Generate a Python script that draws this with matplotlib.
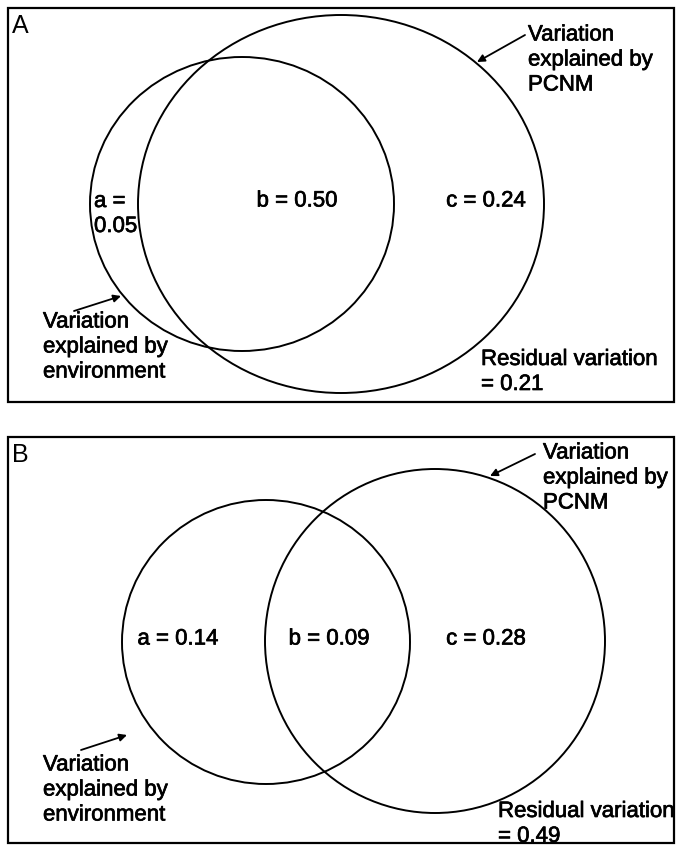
import numpy as np
import matplotlib.pyplot as plt
import matplotlib.patheffects as pe
from matplotlib.patches import Ellipse, Rectangle

plt.rcParams['font.family'] = ['Liberation Sans', 'DejaVu Sans']

# variation partitioning fractions (panel A, panel B)
panels = ['A', 'B']
frac_a = [0.05, 0.14]
frac_b = [0.50, 0.09]
frac_c = [0.24, 0.28]
residual = [0.21, 0.49]

# layout in pixel coordinates (origin top-left)
boxes = [(8, 8, 674, 402), (8, 437, 674, 843)]
env_ell = [(242, 204, 152, 147), (266, 642, 144, 142)]
pcnm_ell = [(341, 204, 203, 189), (435, 641, 170, 172)]

fig = plt.figure(figsize=(6.82, 8.51), dpi=100)
ax = fig.add_axes([0, 0, 1, 1])
ax.set_xlim(0, 682)
ax.set_ylim(851, 0)
ax.axis('off')

fs = 16
lw = 1.4
heavy = [pe.withStroke(linewidth=0.5, foreground='black')]
arrow = dict(arrowstyle='-|>', lw=1.3, color='black', mutation_scale=11,
             shrinkA=0, shrinkB=0)


def label(x, y, s, **kw):
    kw.setdefault('ha', 'left')
    ax.text(x, y, s, fontsize=fs, va='center', path_effects=heavy,
            linespacing=1.25, **kw)


for i, name in enumerate(panels):
    x0, y0, x1, y1 = boxes[i]
    ax.add_patch(Rectangle((x0, y0), x1 - x0, y1 - y0, fill=False,
                           lw=1.6, ec='black'))
    ax.text(x0 + 4, y0 + 18, name, fontsize=18, va='center', ha='left')

    for cx, cy, rx, ry in (env_ell[i], pcnm_ell[i]):
        ax.add_patch(Ellipse((cx, cy), 2 * rx, 2 * ry, fill=False,
                             lw=lw, ec='black'))

# panel A labels
label(94, 214, f"a =\n{frac_a[0]:.2f}")
label(297, 201, f"b = {frac_b[0]:.2f}", ha='center')
label(486, 201, f"c = {frac_c[0]:.2f}", ha='center')
label(528, 60, "Variation\nexplained by\nPCNM")
ax.annotate("", xy=(477, 62), xytext=(525, 35), arrowprops=arrow)
label(43, 347, "Variation\nexplained by\nenvironment")
ax.annotate("", xy=(121, 296), xytext=(74, 311), arrowprops=arrow)
label(481, 372, f"Residual variation\n= {residual[0]:.2f}")

# panel B labels
label(178, 639, f"a = {frac_a[1]:.2f}", ha='center')
label(329, 639, f"b = {frac_b[1]:.2f}", ha='center')
label(486, 639, f"c = {frac_c[1]:.2f}", ha='center')
label(543, 478, "Variation\nexplained by\nPCNM")
ax.annotate("", xy=(490, 476), xytext=(535, 454), arrowprops=arrow)
label(43, 790, "Variation\nexplained by\nenvironment")
ax.annotate("", xy=(127, 735), xytext=(81, 750), arrowprops=arrow)
label(498, 824, f"Residual variation\n= {residual[1]:.2f}")

fig.savefig('out.png', dpi=100)
